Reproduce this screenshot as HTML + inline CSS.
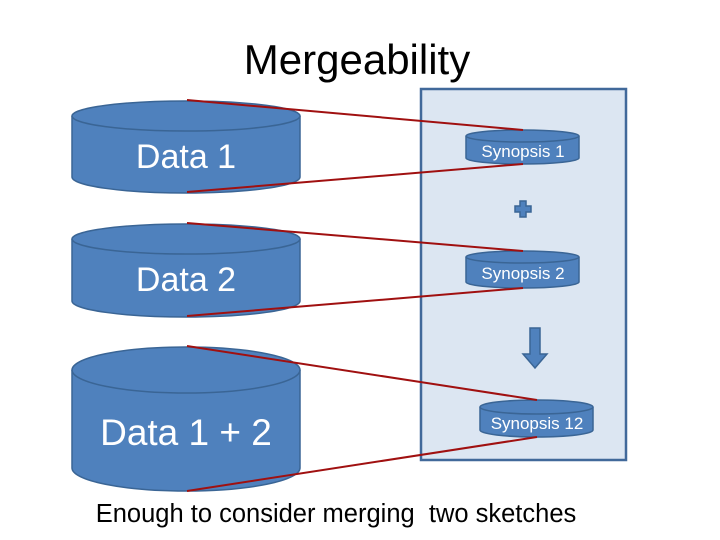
<!DOCTYPE html>
<html><head><style>body{margin:0;background:#fff}svg{display:block}</style></head><body>
<svg width="720" height="540" viewBox="0 0 720 540" xmlns="http://www.w3.org/2000/svg" font-family="Liberation Sans, sans-serif">
<text x="357" y="74" font-size="42" text-anchor="middle" fill="#000">Mergeability</text>
<rect x="421" y="89" width="205" height="371" fill="#dce6f2" stroke="#41699a" stroke-width="2.5"/>
<g fill="#4f81bd" stroke="#3a6595" stroke-width="1.5">
<path d="M72,116 L72,177 A114,16 0 0 0 300,177 L300,116"/><ellipse cx="186" cy="116" rx="114" ry="15"/>
<path d="M72,239 L72,301 A114,16 0 0 0 300,301 L300,239"/><ellipse cx="186" cy="239" rx="114" ry="15"/>
<path d="M72,370 L72,468 A114,23 0 0 0 300,468 L300,370"/><ellipse cx="186" cy="370" rx="114" ry="23"/>
<path d="M466,136 L466,158 A56.5,6 0 0 0 579,158 L579,136"/><ellipse cx="522.5" cy="136" rx="56.5" ry="6"/>
<path d="M466,257 L466,282 A56.5,6 0 0 0 579,282 L579,257"/><ellipse cx="522.5" cy="257" rx="56.5" ry="6"/>
<path d="M480,407 L480,430 A56.5,7 0 0 0 593,430 L593,407"/><ellipse cx="536.5" cy="407" rx="56.5" ry="7"/>
<path d="M530,328 L540,328 L540,354 L547,354 L535,368 L523,354 L530,354 Z"/>
<path d="M520,201 L526,201 L526,206 L531,206 L531,212 L526,212 L526,217 L520,217 L520,212 L515,212 L515,206 L520,206 Z"/>
</g>
<g fill="#fff" text-anchor="middle">
<text x="186" y="168" font-size="34">Data 1</text>
<text x="186" y="291" font-size="34">Data 2</text>
<text x="186" y="445" font-size="37">Data 1 + 2</text>
<text x="523" y="157" font-size="17">Synopsis 1</text>
<text x="523" y="279" font-size="17">Synopsis 2</text>
<text x="537" y="429" font-size="17">Synopsis 12</text>
</g>
<g stroke="#a01010" stroke-width="2">
<line x1="187" y1="100" x2="523" y2="130"/><line x1="187" y1="192" x2="523" y2="164"/>
<line x1="187" y1="223" x2="523" y2="251"/><line x1="187" y1="316" x2="523" y2="288"/>
<line x1="187" y1="346" x2="537" y2="400"/><line x1="187" y1="491" x2="537" y2="437"/>
</g>
<text x="336" y="522" font-size="25.5" text-anchor="middle" fill="#000">Enough to consider merging&#160; two sketches</text>
</svg>
</body></html>
